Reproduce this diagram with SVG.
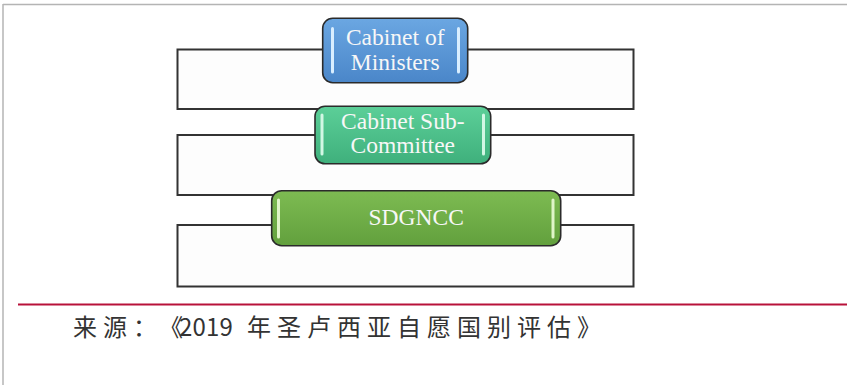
<svg xmlns="http://www.w3.org/2000/svg" width="847" height="385" viewBox="0 0 847 385">
  <defs>
    <linearGradient id="gBlue" x1="0" y1="0" x2="0" y2="1">
      <stop offset="0" stop-color="#6ba7e2"/>
      <stop offset="1" stop-color="#4a86c9"/>
    </linearGradient>
    <linearGradient id="gTeal" x1="0" y1="0" x2="0" y2="1">
      <stop offset="0" stop-color="#5ccf98"/>
      <stop offset="1" stop-color="#3fb07c"/>
    </linearGradient>
    <linearGradient id="gGreen" x1="0" y1="0" x2="0" y2="1">
      <stop offset="0" stop-color="#7dbb52"/>
      <stop offset="1" stop-color="#62a03d"/>
    </linearGradient>
  </defs>
  <style>
    .frame { fill: #fdfdfd; stroke: #333333; stroke-width: 2; }
    .box { stroke: #2b2b2b; stroke-width: 1.6; }
    .bar { fill: none; stroke-width: 3; stroke-linecap: round; }
    .lbl { font-family: "Liberation Serif", "Times New Roman", serif; font-size: 23.5px; fill: #f7f7f7; text-anchor: middle; }
    .src { font-family: "Noto Sans CJK SC", "Noto Sans", sans-serif; font-size: 24px; fill: #333333; }
  </style>
  <rect x="0" y="0" width="847" height="385" fill="#ffffff"/>
  <line x1="3" y1="4.5" x2="847" y2="4.5" stroke="#b4b4b4" stroke-width="1.5"/>
  <line x1="3" y1="4" x2="3" y2="385" stroke="#b4b4b4" stroke-width="1.5"/>
  <g id="connectors">
    <rect class="frame" x="177.5" y="49.5" width="456" height="59.5"/>
    <rect class="frame" x="177.5" y="135" width="456" height="60"/>
    <rect class="frame" x="177.5" y="225" width="456" height="61.5"/>
  </g>
  <g id="cabinet-of-ministers">
    <rect class="box" x="322.7" y="18.3" width="145" height="64.4" rx="10" fill="url(#gBlue)"/>
    <line class="bar" x1="332.5" y1="28.5" x2="332.5" y2="72" stroke="#d9eeff"/>
    <line class="bar" x1="458.5" y1="28.5" x2="458.5" y2="72" stroke="#d9eeff"/>
    <text class="lbl" x="395.2" y="44.5">Cabinet of</text>
    <text class="lbl" x="395.2" y="69.5">Ministers</text>
  </g>
  <g id="cabinet-sub-committee">
    <rect class="box" x="315" y="106.3" width="175.7" height="57.5" rx="10" fill="url(#gTeal)"/>
    <line class="bar" x1="322" y1="115" x2="322" y2="154" stroke="#d2f7e4"/>
    <line class="bar" x1="483.5" y1="115" x2="483.5" y2="154" stroke="#d2f7e4"/>
    <text class="lbl" x="402.8" y="128.7">Cabinet Sub-</text>
    <text class="lbl" x="402.8" y="152.5">Committee</text>
  </g>
  <g id="sdgncc">
    <rect class="box" x="271.7" y="190.7" width="289" height="55" rx="10" fill="url(#gGreen)"/>
    <line class="bar" x1="278.5" y1="200" x2="278.5" y2="237" stroke="#dff5c8"/>
    <line class="bar" x1="553" y1="200" x2="553" y2="237" stroke="#dff5c8"/>
    <text class="lbl" x="416.2" y="224.5">SDGNCC</text>
  </g>
  <line x1="18" y1="304.5" x2="847" y2="304.5" stroke="#b8123a" stroke-width="2.2"/>
  <text class="src" y="336" x="73 103 133 159 179 192.5 206 219.5 233 247 277 307 337 367 397 427 457 487 517 547 577">来源：《2019 年圣卢西亚自愿国别评估》</text>
</svg>
